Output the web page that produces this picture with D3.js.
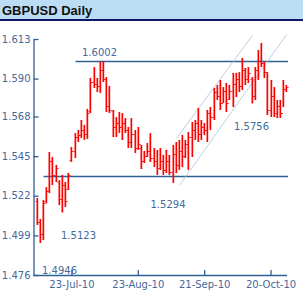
<!DOCTYPE html>
<html>
<head>
<meta charset="utf-8">
<script src="https://cdn.jsdelivr.net/npm/d3@7"></script>
<style>
  body { margin: 0; background: #fff; }
  .chart-container { width: 303px; height: 295px; }
  text { font-family: "DejaVu Sans", Verdana, sans-serif; }
</style>
</head>
<body>
<div class="chart-container"></div>
<script>
/* GBPUSD Daily
   ========================================================================== */

// Trading days shown on the chart
var dates = [
  "2010-07-08","2010-07-09","2010-07-12","2010-07-13","2010-07-14","2010-07-15","2010-07-16",
  "2010-07-19","2010-07-20","2010-07-21","2010-07-22","2010-07-23","2010-07-26","2010-07-27",
  "2010-07-28","2010-07-29","2010-07-30","2010-08-02","2010-08-03","2010-08-04","2010-08-05",
  "2010-08-06","2010-08-09","2010-08-10","2010-08-11","2010-08-12","2010-08-13","2010-08-16",
  "2010-08-17","2010-08-18","2010-08-19","2010-08-20","2010-08-23","2010-08-24","2010-08-25",
  "2010-08-26","2010-08-27","2010-08-30","2010-08-31","2010-09-01","2010-09-02","2010-09-03",
  "2010-09-06","2010-09-07","2010-09-08","2010-09-09","2010-09-10","2010-09-13","2010-09-14",
  "2010-09-15","2010-09-16","2010-09-17","2010-09-20","2010-09-21","2010-09-22","2010-09-23",
  "2010-09-24","2010-09-27","2010-09-28","2010-09-29","2010-09-30","2010-10-01","2010-10-04",
  "2010-10-05","2010-10-06","2010-10-07","2010-10-08","2010-10-11","2010-10-12","2010-10-13",
  "2010-10-14","2010-10-15","2010-10-18","2010-10-19","2010-10-20","2010-10-21","2010-10-22",
  "2010-10-25","2010-10-26","2010-10-27"
];

var highs = [
  1.5207,1.5085,1.5195,1.5270,1.5474,1.5445,1.5399,1.5311,1.5341,1.5300,
  1.5352,1.5503,1.5584,1.5602,1.5660,1.5631,1.5724,1.5904,1.5967,1.5904,
  1.5997,1.6002,1.5909,1.5857,1.5718,1.5677,1.5706,1.5700,1.5671,1.5619,
  1.5671,1.5602,1.5619,1.5515,1.5480,1.5526,1.5584,1.5497,1.5486,1.5497,
  1.5457,1.5486,1.5457,1.5515,1.5532,1.5544,1.5573,1.5544,1.5590,1.5648,
  1.5660,1.5730,1.5660,1.5642,1.5718,1.5735,1.5846,1.5863,1.5892,1.5851,
  1.5875,1.5863,1.5933,1.5933,1.5938,1.6020,1.5962,1.5967,1.5909,1.5967,
  1.6066,1.6107,1.5997,1.5938,1.5892,1.5851,1.5776,1.5776,1.5892,1.5863
];

var lows = [
  1.5050,1.4946,1.4963,1.5176,1.5236,1.5282,1.5300,1.5166,1.5123,1.5155,
  1.5253,1.5416,1.5439,1.5532,1.5555,1.5544,1.5550,1.5700,1.5846,1.5822,
  1.5817,1.5880,1.5706,1.5700,1.5561,1.5561,1.5584,1.5544,1.5584,1.5497,
  1.5497,1.5468,1.5486,1.5375,1.5410,1.5445,1.5416,1.5387,1.5341,1.5370,
  1.5341,1.5352,1.5341,1.5294,1.5352,1.5370,1.5387,1.5439,1.5370,1.5445,
  1.5544,1.5532,1.5544,1.5573,1.5532,1.5602,1.5660,1.5776,1.5718,1.5758,
  1.5706,1.5776,1.5735,1.5793,1.5822,1.5834,1.5863,1.5875,1.5756,1.5776,
  1.5892,1.5967,1.5904,1.5689,1.5677,1.5677,1.5671,1.5671,1.5735,1.5822
];

var opens = [
  1.5190,1.5070,1.5000,1.5190,1.5250,1.5420,1.5340,1.5300,1.5200,1.5280,
  1.5260,1.5430,1.5480,1.5560,1.5570,1.5600,1.5580,1.5710,1.5880,1.5870,
  1.5860,1.5950,1.5900,1.5740,1.5710,1.5620,1.5640,1.5620,1.5640,1.5600,
  1.5530,1.5580,1.5500,1.5500,1.5420,1.5450,1.5480,1.5440,1.5420,1.5380,
  1.5420,1.5370,1.5420,1.5360,1.5460,1.5400,1.5480,1.5450,1.5520,1.5560,
  1.5600,1.5640,1.5580,1.5620,1.5600,1.5700,1.5680,1.5820,1.5800,1.5760,
  1.5830,1.5780,1.5830,1.5870,1.5900,1.5860,1.5950,1.5900,1.5900,1.5800,
  1.5950,1.6000,1.5990,1.5940,1.5720,1.5800,1.5700,1.5740,1.5700,1.5840
];

var closes = [
  1.5070,1.5000,1.5180,1.5250,1.5420,1.5340,1.5380,1.5200,1.5280,1.5190,
  1.5340,1.5480,1.5560,1.5570,1.5600,1.5580,1.5700,1.5880,1.5870,1.5860,
  1.5950,1.5900,1.5740,1.5720,1.5620,1.5640,1.5620,1.5640,1.5600,1.5530,
  1.5580,1.5500,1.5520,1.5420,1.5450,1.5480,1.5440,1.5420,1.5380,1.5420,
  1.5370,1.5420,1.5360,1.5460,1.5400,1.5480,1.5450,1.5520,1.5560,1.5600,
  1.5640,1.5580,1.5620,1.5600,1.5700,1.5680,1.5820,1.5800,1.5760,1.5830,
  1.5760,1.5830,1.5870,1.5900,1.5860,1.5950,1.5900,1.5930,1.5800,1.5950,
  1.6000,1.5990,1.5940,1.5720,1.5800,1.5700,1.5740,1.5700,1.5840,1.5850
];

// Axis ticks
var yTicks = [1.476, 1.499, 1.522, 1.545, 1.568, 1.590, 1.613];
var xTicks = ["2010-07-23", "2010-08-23", "2010-09-21", "2010-10-20"];

// Horizontal support / resistance levels and where they start
var levelValues = [1.6002, 1.5335];
var levelStarts = ["2010-07-26", "2010-07-12"];

// Rising channel: [start date, end date] and [start value, end value]
var channelDates = [["2010-09-08", "2010-10-12"], ["2010-09-09", "2010-10-27"]];
var channelValues = [[1.5554, 1.6151], [1.5281, 1.6155]];

// Price annotations
var noteTexts = ["1.6002", "1.5294", "1.5123", "1.4946", "1.5756"];
var noteDates = ["2010-08-06", "2010-09-07", "2010-07-20", "2010-07-09", "2010-10-12"];
var noteValues = [1.6002, 1.5294, 1.5123, 1.4946, 1.5756];

var bars = dates.map(function(d, i) {
  return { date: d, open: opens[i], high: highs[i], low: lows[i], close: closes[i] };
});

/* Layout
   ========================================================================== */
var W = 303, H = 295;
var margin = { top: 39, right: 15, bottom: 20, left: 33.5 },
    width = W - margin.left - margin.right,
    height = H - margin.top - margin.bottom;

var svg = d3.select('.chart-container').append("svg")
    .attr("width", W)
    .attr("height", H);

// Header bar
svg.append("rect")
    .attr("x", 0).attr("y", 0)
    .attr("width", W).attr("height", 19)
    .attr("fill", "#bbdcf3");
svg.append("rect")
    .attr("x", 0).attr("y", 19)
    .attr("width", W).attr("height", 2)
    .attr("fill", "#0c1a66");
svg.append("text")
    .attr("x", 2).attr("y", 15)
    .style("font-family", "'Liberation Sans', Arial, sans-serif")
    .style("font-weight", "bold")
    .style("font-size", "13px")
    .attr("fill", "#111")
    .text("GBPUSD Daily");

var g = svg.append("g")
    .attr("transform", "translate(" + margin.left + "," + margin.top + ")");

// Scales
var x = d3.scaleBand()
    .domain(dates)
    .range([2.1, 2.1 + 3.16 * dates.length]);
var y = d3.scaleLinear()
    .domain([1.476, 1.613])
    .range([height, 0]);

function cx(d) { return Math.round(x(d) + x.bandwidth() / 2); }

var axisColor = "#2f6094",
    textColor = "#45699a";

// Levels
g.selectAll(".level")
    .data(levelValues)
    .enter().append("line")
    .attr("class", "level")
    .attr("x1", function(d, i) { return cx(levelStarts[i]); })
    .attr("x2", width)
    .attr("y1", function(d) { return Math.round(y(d)) + 0.5; })
    .attr("y2", function(d) { return Math.round(y(d)) + 0.5; })
    .attr("stroke", axisColor)
    .attr("stroke-width", 1.3);

// Channel
g.selectAll(".channel")
    .data(channelValues)
    .enter().append("line")
    .attr("class", "channel")
    .attr("x1", function(d, i) { return cx(channelDates[i][0]); })
    .attr("x2", function(d, i) { return cx(channelDates[i][1]); })
    .attr("y1", function(d) { return y(d[0]); })
    .attr("y2", function(d) { return y(d[1]); })
    .attr("stroke", "#a9c3dd")
    .attr("stroke-width", 0.8);

// OHLC bars
var bar = g.selectAll(".bar")
    .data(bars)
    .enter().append("g")
    .attr("class", "bar")
    .attr("fill", "#ff0000");
bar.append("rect")
    .attr("x", function(d) { return cx(d.date) - 1; })
    .attr("width", 1.7)
    .attr("y", function(d) { return y(d.high); })
    .attr("height", function(d) { return y(d.low) - y(d.high); });
bar.append("rect")
    .attr("x", function(d) { return cx(d.date) - 2; })
    .attr("width", 1)
    .attr("y", function(d) { return Math.round(y(d.open)); })
    .attr("height", 1);
bar.append("rect")
    .attr("x", function(d) { return cx(d.date) + 0.7; })
    .attr("width", 1.3)
    .attr("y", function(d) { return Math.round(y(d.close)); })
    .attr("height", 1);

// Annotations
var noteOffsets = [[-21.5, -5], [-23, 25], [-1.5, 27], [1.5, 31], [-18.5, 27]];
g.selectAll(".note")
    .data(noteTexts)
    .enter().append("text")
    .attr("class", "note")
    .attr("x", function(d, i) { return cx(noteDates[i]) + noteOffsets[i][0]; })
    .attr("y", function(d, i) { return y(noteValues[i]) + noteOffsets[i][1]; })
    .attr("fill", textColor)
    .style("font-size", "10px")
    .text(function(d) { return d; });

// Axes
var fmt = d3.timeFormat("%d-%b-%y"), parse = d3.timeParse("%Y-%m-%d");
var xAxis = g.append("g")
    .attr("transform", "translate(0," + height + ")")
    .call(d3.axisBottom(x)
        .tickValues(xTicks)
        .tickSizeInner(-5)
        .tickSizeOuter(0)
        .tickPadding(6)
        .tickFormat(function(d) { return fmt(parse(d)); }));
xAxis.select(".domain").attr("d", "M0,0.5H" + (width - 1));

var yAxis = g.append("g")
    .call(d3.axisLeft(y)
        .tickValues(yTicks)
        .tickSizeInner(-5)
        .tickSizeOuter(0)
        .tickPadding(3)
        .tickFormat(d3.format(".3f")));

[xAxis, yAxis].forEach(function(a) {
  a.selectAll("path, line").attr("stroke", axisColor).attr("stroke-width", 1.3);
  a.selectAll("text")
      .attr("fill", textColor)
      .style("font-family", "'DejaVu Sans', Verdana, sans-serif")
      .style("font-size", "10px");
});
</script>
</body>
</html>
